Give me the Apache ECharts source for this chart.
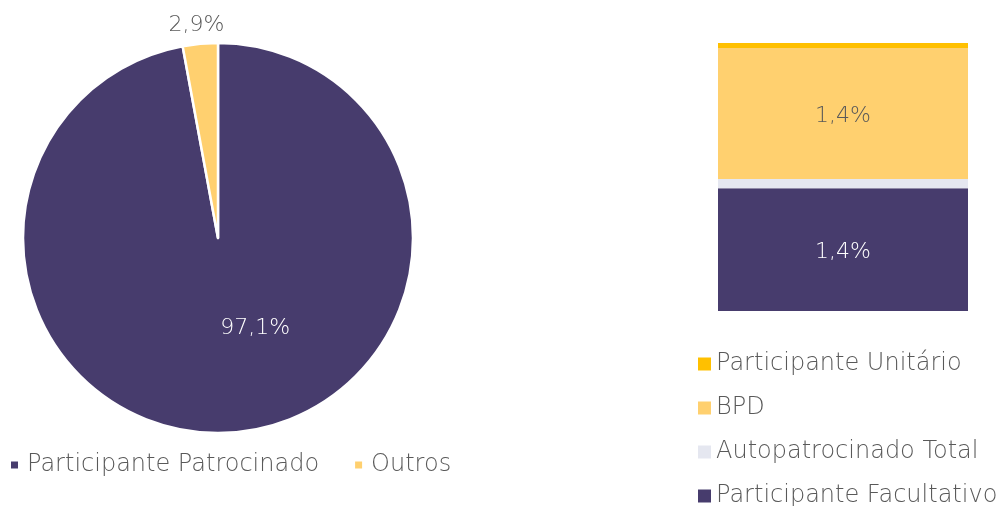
<!DOCTYPE html>
<html>
<head>
<meta charset="utf-8">
<script src="https://cdn.jsdelivr.net/npm/echarts@6/dist/echarts.min.js"></script>
<style>
  html, body { margin: 0; padding: 0; background: #fff; }
  #chart { width: 1001px; height: 506px; }
</style>
</head>
<body>
<div id="chart"></div>
<script>
// pie: participantes
const pieNames = ['Participante Patrocinado', 'Outros'];
const pieValues = [97.1, 2.9];
const pieColors = ['#473C6D', '#FFD06F'];

// barra empilhada: composição de "Outros" (de baixo para cima)
const barNames = ['Participante Facultativo', 'Autopatrocinado Total', 'BPD', 'Participante Unitário'];
const barValues = [1.35, 0.1, 1.44, 0.055];
const barColors = ['#473C6D', '#E5E7F0', '#FFD06F', '#FFC000'];
const barShowLabel = [true, false, true, false];

const fontFamily = "'DejaVu Sans', sans-serif";
const fontWeight = 200;
const fmt = v => v.toFixed(1).replace('.', ',') + '%';

const chart = echarts.init(document.getElementById('chart'));
const barTotal = barValues.reduce((a, b) => a + b, 0);

const option = {
  animation: false,
  textStyle: { fontFamily: fontFamily },
  legend: [
    {
      data: pieNames,
      left: 4,
      top: 448,
      itemWidth: 9,
      itemHeight: 9,
      itemGap: 34,
      icon: 'rect',
      textStyle: { fontSize: 24, color: '#595959', fontWeight: fontWeight, fontFamily: fontFamily, padding: [0, 0, 0, 3] }
    },
    {
      data: barNames.slice().reverse(),
      orient: 'vertical',
      left: 693,
      top: 347,
      height: 300,
      itemWidth: 13,
      itemHeight: 13,
      itemGap: 20,
      icon: 'rect',
      textStyle: { fontSize: 24, color: '#595959', fontWeight: fontWeight, fontFamily: fontFamily }
    }
  ],
  grid: { left: 718, top: 43, width: 250, height: 268 },
  xAxis: { type: 'category', data: [''], show: false },
  yAxis: { type: 'value', min: 0, max: barTotal, show: false },
  series: [
    {
      type: 'pie',
      center: [218, 238],
      radius: 195,
      startAngle: 90,
      clockwise: true,
      itemStyle: { borderColor: '#fff', borderWidth: 2.5 },
      label: {
        show: true,
        formatter: p => fmt(p.value),
        fontSize: 22,
        fontWeight: fontWeight,
        fontFamily: fontFamily
      },
      labelLine: { show: false, length: 10, length2: 0 },
      labelLayout: p => p.dataIndex === 0 ? { dx: 28, dy: -10 } : { dx: 30, dy: -9 },
      data: pieNames.map((n, i) => ({
        name: n,
        value: pieValues[i],
        itemStyle: { color: pieColors[i] },
        label: i === 0
          ? { position: 'inside', color: '#fff' }
          : { position: 'outside', color: '#595959' }
      }))
    }
  ].concat(barNames.map((n, i) => ({
    type: 'bar',
    name: n,
    stack: 'outros',
    barWidth: '100%',
    itemStyle: { color: barColors[i] },
    label: {
      show: barShowLabel[i],
      position: 'inside',
      offset: [0, 3],
      formatter: () => fmt(barValues[i]),
      fontSize: 22,
      fontWeight: fontWeight,
      fontFamily: fontFamily,
      color: i === 0 ? '#fff' : '#595959'
    },
    data: [barValues[i]]
  })))
};

chart.setOption(option);
</script>
</body>
</html>
